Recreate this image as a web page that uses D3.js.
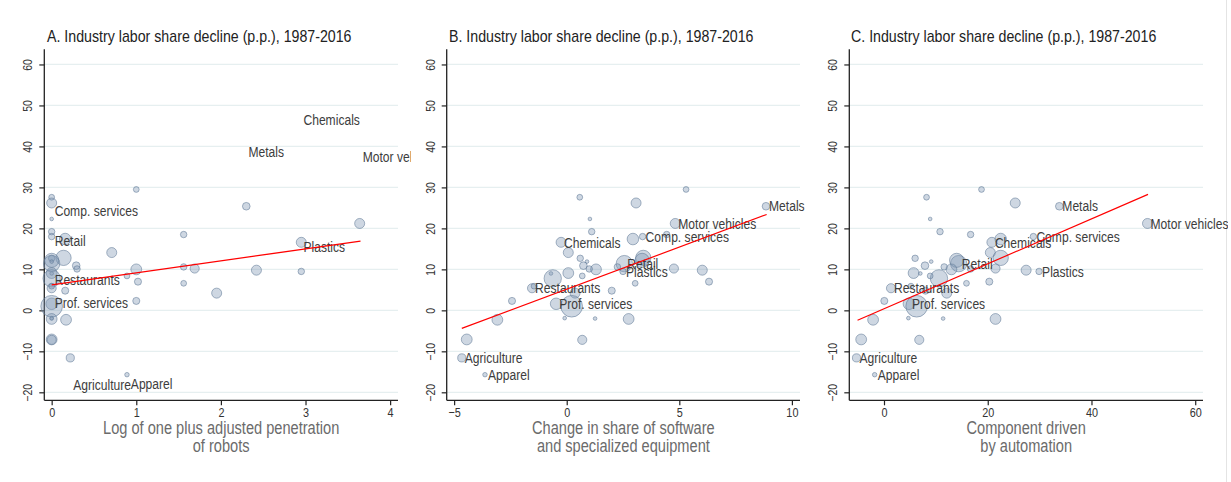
<!DOCTYPE html>
<html>
<head>
<meta charset="utf-8">
<script src="https://cdn.jsdelivr.net/npm/d3@7"></script>
<style>
  body { margin: 0; background: #fff; }
  svg { display: block; }
  text { font-family: "Liberation Sans", Arial, sans-serif; }
</style>
</head>
<body>
<div id="chart"></div>
<script>
// industry data (labor share decline and the three explanatory variables)
var industries = ["", "", "", "Metals", "", "Motor vehicles", "", "", "Comp. services", "", "Chemicals", "", "", "", "Retail", "", "", "", "", "", "", "", "", "Plastics", "", "", "", "", "", "", "Restaurants", "", "", "", "", "Prof. services", "", "", "", "", "", "", "", "Agriculture", "Apparel"];
var decline    = [29.5, 27.6, 26.2, 25.4, 22.3, 21.2, 19.2, 18.5, 18.0, 17.4, 16.6, 14.1, 12.7, 12.8, 11.4, 12.2, 10.9, 11.9, 10.6, 10.0, 10.1, 10.2, 9.8, 9.5, 9.1, 9.0, 7.8, 8.4, 6.6, 7.0, 5.4, 5.9, 4.8, 4.2, 2.3, 1.6, 1.0, -1.9, -2.0, -2.3, -2.1, -7.1, -7.2, -11.6, -15.7];
var robots     = [1.00, 0.00, 0.00, 2.30, 0.00, 3.64, 0.00, 1.56, 0.00, 0.16, 2.95, 0.71, 0.00, 0.14, 0.00, 0.00, 0.29, 0.00, 1.56, 1.00, 0.30, 1.69, 2.42, 2.95, 0.00, 0.00, 0.00, 0.89, 1.56, 1.02, 0.00, 0.00, 0.16, 1.95, 1.00, 0.00, 0.00, 0.00, 0.00, 0.17, 0.00, 0.00, 0.00, 0.22, 0.89];
var software   = [5.30, 0.58, 3.08, 8.85, 1.03, 4.82, 1.11, 4.44, 3.37, 2.94, -0.25, 0.07, 0.60, 3.40, 2.56, 3.35, 0.74, 0.90, 2.25, 1.30, 1.00, 4.76, 6.02, 2.50, 0.07, -0.70, -0.62, 0.69, 3.04, 6.32, -1.54, -1.45, 2.00, 0.37, -2.43, -0.47, 0.22, -0.09, 1.26, -3.08, 2.75, -4.44, 0.69, -4.66, -3.63];
var automation = [18.8, 8.2, 25.3, 33.8, 8.9, 50.8, 10.8, 16.7, 28.8, 22.5, 20.8, 20.5, 6.0, 22.5, 14.4, 14.0, 7.9, 9.1, 11.6, 13.0, 16.7, 21.5, 27.4, 29.9, 5.7, 7.0, 10.6, 8.9, 15.9, 20.3, 1.35, 5.2, 8.0, 12.1, 0.06, 4.8, 6.3, 4.7, 11.4, -2.1, 21.5, -4.4, 6.8, -5.3, -1.8];
var weight     = [2, 2, 6, 3.5, 0.8, 6, 2.5, 2.5, 2.5, 8, 6, 6, 2.5, 14, 16, 12, 3.5, 0.8, 2.5, 7, 2.5, 5, 6, 2.5, 7, 0.8, 18, 2, 2, 3, 5, 2, 3, 6, 3, 8, 28, 0.8, 0.8, 7, 7, 7, 5, 4, 1.2];

// fitted lines [x0, y0, x1, y1]
var fitRobots     = [0, 6.2, 3.65, 16.9];
var fitSoftware   = [-4.66, -4.4, 8.88, 23.4];
var fitAutomation = [-5.1, -2.4, 50.9, 28.3];

// panel A labels sit apart from their markers
var labelsA  = ["Chemicals", "Metals", "Motor vehicles", "Comp. services", "Retail", "Plastics", "Restaurants", "Prof. services", "Agriculture", "Apparel"];
var labelsAx = [2.94, 2.29, 3.64, 0.0, 0.0, 2.94, 0.0, 0.0, 0.22, 0.9];
var labelsAy = [46.4, 38.6, 37.4, 24.2, 16.9, 15.4, 7.4, 1.8, -18.2, -17.9];

var yTicks = [-20, -10, 0, 10, 20, 30, 40, 50, 60];
var xTicksA = [0, 1, 2, 3, 4];
var xTicksB = [-5, 0, 5, 10];
var xTicksC = [0, 20, 40, 60];

var width = 1231, height = 482;
var narrow = 0.835; // Stata's narrow sans look
var svg = d3.select("#chart").append("svg").attr("width", width).attr("height", height);

var rScale = d3.scaleSqrt().domain([0, 30]).range([0, 11.2]);
var yScale = d3.scaleLinear().domain([-21.95, 63.7]).range([400.3, 49.3]);

var panels = [
  { title: "A. Industry labor share decline (p.p.), 1987-2016", xs: robots, fit: fitRobots, ticks: xTicksA,
    domain: [-0.087, 4.093], left: 44.3, right: 398, clipL: 0, clipR: 411,
    xtitle: ["Log of one plus adjusted penetration", "of robots"], titleX: 47 },
  { title: "B. Industry labor share decline (p.p.), 1987-2016", xs: software, fit: fitSoftware, ticks: xTicksB,
    domain: [-5.33, 10.36], left: 446.7, right: 800, clipL: 411, clipR: 815,
    xtitle: ["Change in share of software", "and specialized equipment"], titleX: 449 },
  { title: "C. Industry labor share decline (p.p.), 1987-2016", xs: automation, fit: fitAutomation, ticks: xTicksC,
    domain: [-6.69, 61.5], left: 849.3, right: 1203, clipL: 815, clipR: 1228,
    xtitle: ["Component driven", "by automation"], titleX: 851 }
];

function narrowText(sel, px, py) {
  return sel.attr("x", 0).attr("y", 0)
    .attr("transform", "translate(" + px + "," + py + ") scale(" + narrow + ",1)");
}

// faint frame at right edge
svg.append("line").attr("x1", 1226.5).attr("x2", 1226.5).attr("y1", 0).attr("y2", height)
  .attr("stroke", "#e4e4e4");

panels.forEach(function(p, pi) {
  var x = d3.scaleLinear().domain(p.domain).range([p.left, p.right]);
  var g = svg.append("g");

  svg.append("clipPath").attr("id", "clip" + pi)
    .append("rect").attr("x", p.clipL).attr("y", 0).attr("width", p.clipR - p.clipL).attr("height", height);

  // gridlines
  g.selectAll(".grid").data(yTicks).enter().append("line")
    .attr("x1", p.left).attr("x2", p.right)
    .attr("y1", function(d) { return yScale(d); }).attr("y2", function(d) { return yScale(d); })
    .attr("stroke", "#e6eff0").attr("stroke-width", 1.3);

  // y axis
  var yAxis = g.append("g").attr("transform", "translate(" + p.left + ",0)")
    .call(d3.axisLeft(yScale).tickValues(yTicks).tickSize(5).tickFormat(d3.format("d")));
  yAxis.select(".domain").attr("stroke", "#222").attr("stroke-width", 1.3).attr("d", "M0,49.3V400.3");
  yAxis.selectAll(".tick line").attr("stroke", "#222").attr("stroke-width", 1.2);
  yAxis.selectAll(".tick text")
    .attr("x", 0).attr("y", 0).attr("dy", "0")
    .attr("transform", "translate(-12,0) rotate(-90) scale(" + narrow + ",1)")
    .attr("text-anchor", "middle")
    .style("font-size", "12.5px").attr("fill", "#333");

  // x axis
  var xAxis = g.append("g").attr("transform", "translate(0,400.3)")
    .call(d3.axisBottom(x).tickValues(p.ticks).tickSize(5).tickFormat(d3.format("d")));
  xAxis.select(".domain").attr("stroke", "#222").attr("stroke-width", 1.3)
    .attr("d", "M" + p.left + ",0H" + p.right);
  xAxis.selectAll(".tick line").attr("stroke", "#222").attr("stroke-width", 1.2);
  xAxis.selectAll(".tick text").attr("x", 0).attr("y", 0).attr("dy", "0")
    .attr("transform", "translate(0,17) scale(" + narrow + ",1)")
    .style("font-size", "13px").attr("fill", "#333");

  // title
  narrowText(g.append("text"), p.titleX, 42)
    .style("font-size", "17px").attr("fill", "#222").text(p.title);

  // x axis title
  p.xtitle.forEach(function(t, i) {
    narrowText(g.append("text"), (p.left + p.right) / 2, 434 + i * 18)
      .attr("text-anchor", "middle").style("font-size", "17.5px").attr("fill", "#6b6b6b")
      .text(t);
  });

  var pts = d3.range(decline.length).map(function(i) {
    return { name: industries[i], y: decline[i], x: p.xs[i], w: weight[i] };
  });

  var inner = g.append("g").attr("clip-path", "url(#clip" + pi + ")");

  // bubbles
  inner.selectAll("circle").data(pts).enter().append("circle")
    .attr("cx", function(d) { return x(d.x); })
    .attr("cy", function(d) { return yScale(d.y); })
    .attr("r", function(d) { return rScale(d.w); })
    .attr("fill", "#7d95b2").attr("fill-opacity", 0.38)
    .attr("stroke", "#5f7896").attr("stroke-opacity", 0.55).attr("stroke-width", 1);

  // labels
  var labs;
  if (pi === 0) {
    labs = labelsA.map(function(n, i) { return { name: n, x: labelsAx[i], y: labelsAy[i] }; });
  } else {
    labs = pts.filter(function(d) { return d.name !== ""; });
  }
  labs.forEach(function(d) {
    narrowText(inner.append("text"), x(d.x) + 3, yScale(d.y))
      .attr("dy", "0.36em")
      .style("font-size", "14.5px").attr("fill", "#3d3d3d")
      .text(d.name);
  });

  // fitted line
  inner.append("line")
    .attr("x1", x(p.fit[0])).attr("y1", yScale(p.fit[1]))
    .attr("x2", x(p.fit[2])).attr("y2", yScale(p.fit[3]))
    .attr("stroke", "#ff0000").attr("stroke-width", 1.2);
});
</script>
</body>
</html>
